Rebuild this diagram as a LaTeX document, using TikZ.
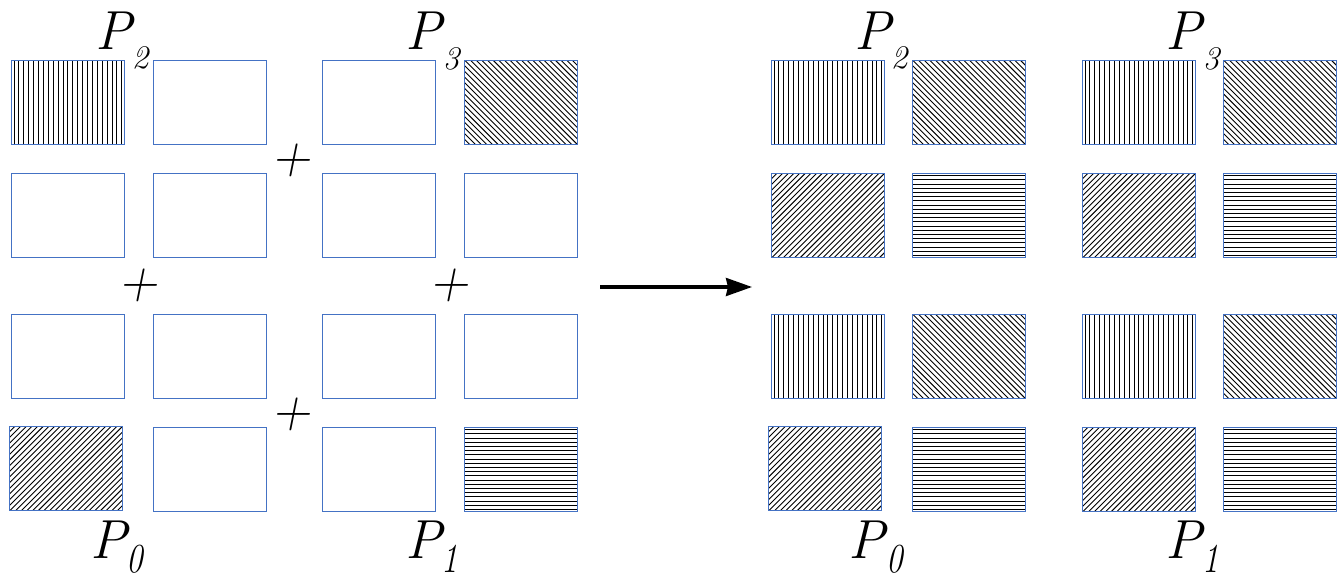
\documentclass[tikz,border=0pt]{standalone}
\usetikzlibrary{arrows.meta}
\definecolor{boxblue}{RGB}{68,114,196}
\tikzset{
 cell/.style={draw=boxblue,line width=1pt,minimum width=113pt,minimum height=84pt,inner sep=0pt,anchor=north west},
 hatchline/.style={black,line width=0.9pt},
 vhatch/.style={path picture={\foreach \k in {2.5,7.4,...,113} \draw[hatchline] ([xshift=\k pt]path picture bounding box.north west) -- ++(0pt,-90pt);}},
 hhatch/.style={path picture={\foreach \k in {2.1,6.3,...,84} \draw[hatchline] ([yshift=-\k pt]path picture bounding box.north west) -- ++(120pt,0pt);}},
 nwhatch/.style={path picture={\foreach \k in {-90,-84.34,...,116} \draw[hatchline] ([xshift=\k pt]path picture bounding box.north west) -- ++(100pt,-100pt);}},
 nehatch/.style={path picture={\foreach \k in {-90,-84.34,...,116} \draw[hatchline] ([xshift=\k pt]path picture bounding box.south west) -- ++(100pt,100pt);}},
 plab/.style={font=\fontsize{55}{60}\selectfont\itshape,inner sep=0pt,anchor=base},
 sublab/.style={font=\fontsize{33}{36}\selectfont\itshape,inner sep=0pt,anchor=base},
 sublow/.style={sublab,yscale=1.25},
 plussign/.style={font=\fontsize{52.5}{60}\selectfont,inner sep=0pt,xslant=0.2},
 arrowline/.style={line width=3.2pt,-{Stealth[length=26pt,width=18pt,inset=2pt]}},
}
\begin{document}
\begin{tikzpicture}[x=1pt,y=-1pt]
\useasboundingbox (0,0) rectangle (1340,578);
% ---- left group ----
\node[cell,vhatch] (L11) at (11,60) {};
\node[cell] (L12) at (153,60) {};
\node[cell] (L13) at (322,60) {};
\node[cell,nwhatch] (L14) at (464,60) {};
\node[cell] (L21) at (11,173) {};
\node[cell] (L22) at (153,173) {};
\node[cell] (L23) at (322,173) {};
\node[cell] (L24) at (464,173) {};
\node[cell] (L31) at (11,314) {};
\node[cell] (L32) at (153,314) {};
\node[cell] (L33) at (322,314) {};
\node[cell] (L34) at (464,314) {};
\node[cell,nehatch] (L41) at (9,426) {};
\node[cell] (L42) at (153,427) {};
\node[cell] (L43) at (322,427) {};
\node[cell,hhatch] (L44) at (464,427) {};
% ---- right group ----
\node[cell,vhatch] (R11) at (771,60) {};
\node[cell,nwhatch] (R12) at (912,60) {};
\node[cell,vhatch] (R13) at (1082,60) {};
\node[cell,nwhatch] (R14) at (1223,60) {};
\node[cell,nehatch] (R21) at (771,173) {};
\node[cell,hhatch] (R22) at (912,173) {};
\node[cell,nehatch] (R23) at (1082,173) {};
\node[cell,hhatch] (R24) at (1223,173) {};
\node[cell,vhatch] (R31) at (771,314) {};
\node[cell,nwhatch] (R32) at (912,314) {};
\node[cell,vhatch] (R33) at (1082,314) {};
\node[cell,nwhatch] (R34) at (1223,314) {};
\node[cell,nehatch] (R41) at (768,426) {};
\node[cell,hhatch] (R42) at (912,427) {};
\node[cell,nehatch] (R43) at (1082,427) {};
\node[cell,hhatch] (R44) at (1223,427) {};
% ---- labels left ----
\node[plab] (LP2) at (114,50) {P};
\node[sublab] (LS2) at (140,69) {2};
\node[plab] (LP3) at (424,50) {P};
\node[sublab] (LS3) at (451,70) {3};
\node[plab] (LP0) at (109,558) {P};
\node[sublow] (LS0) at (135,572) {0};
\node[plab] (LP1) at (424,558) {P};
\node[sublow] (LS1) at (450,572) {1};
% ---- labels right ----
\node[plab] (RP2) at (873,50) {P};
\node[sublab] (RS2) at (899,69) {2};
\node[plab] (RP3) at (1184,50) {P};
\node[sublab] (RS3) at (1211,70) {3};
\node[plab] (RP0) at (867,558) {P};
\node[sublow] (RS0) at (895,572) {0};
\node[plab] (RP1) at (1184,558) {P};
\node[sublow] (RS1) at (1211,572) {1};
% ---- plus signs ----
\node[plussign] (pl1) at (294,160) {+};
\node[plussign] (pl2) at (141,285) {+};
\node[plussign] (pl3) at (452,285) {+};
\node[plussign] (pl4) at (294,414) {+};
% ---- arrow ----
\coordinate (arrS) at (600,287);
\coordinate (arrE) at (752,287);
\draw[arrowline] (arrS) -- (arrE);
\end{tikzpicture}
\end{document}
